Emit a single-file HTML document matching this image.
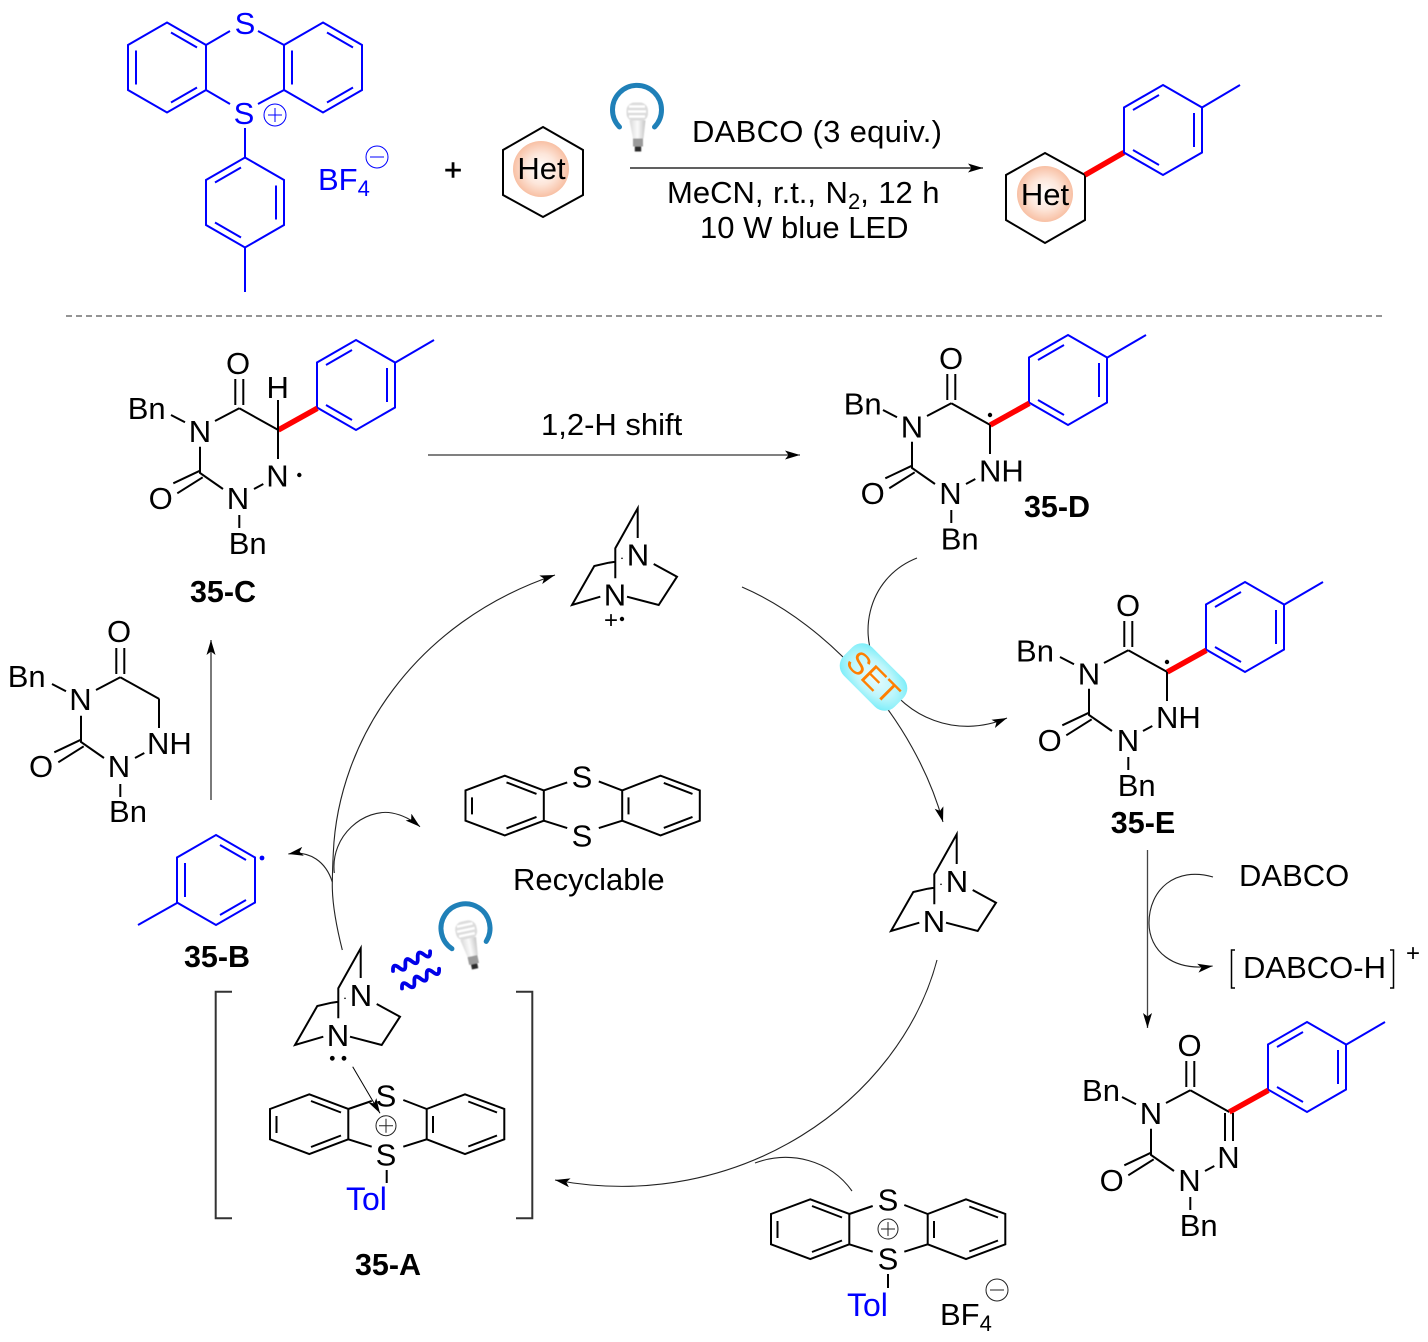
<!DOCTYPE html>
<html>
<head>
<meta charset="utf-8">
<style>
html,body{margin:0;padding:0;background:#fff;}
svg{display:block;}
text{font-family:"Liberation Sans",sans-serif;font-size:31px;fill:#000;}
.m{text-anchor:middle;}
.b{font-weight:bold;font-size:30.5px;text-anchor:middle;}
.bl{fill:#0000ff;}
</style>
</head>
<body>
<svg width="1428" height="1342" viewBox="0 0 1428 1342" xmlns="http://www.w3.org/2000/svg">
<defs>
<radialGradient id="het" cx="50%" cy="50%" r="50%">
<stop offset="0" stop-color="#fff"/><stop offset="0.55" stop-color="#fde6da"/><stop offset="1" stop-color="#f8c0a4"/>
</radialGradient>
<radialGradient id="setg" cx="50%" cy="50%" r="60%">
<stop offset="0" stop-color="#eafcfe"/><stop offset="0.6" stop-color="#bdf6fb"/><stop offset="1" stop-color="#7eeef9"/>
</radialGradient>
<linearGradient id="bulb" x1="0" x2="1" y1="0" y2="0">
<stop offset="0" stop-color="#d8d8d8"/><stop offset="0.5" stop-color="#fbfbfb"/><stop offset="1" stop-color="#c4c4c4"/>
</linearGradient>
<filter id="soft" x="-20%" y="-20%" width="140%" height="140%"><feGaussianBlur stdDeviation="0.6"/></filter>
<marker id="ah" markerUnits="userSpaceOnUse" markerWidth="18" markerHeight="11" refX="15" refY="4.5" orient="auto">
<path d="M15,4.5 L0,0 L3.5,4.5 L0,9 Z" fill="#000"/>
</marker>
<g id="hexA" fill="none" stroke-linejoin="miter">
<path d="M0,-45 L39,-22.5 L39,22.5 L0,45 L-39,22.5 L-39,-22.5 Z"/>
<path d="M4,-35 L30,-20 M30,20 L4,35 M-31,17 L-31,-17"/>
</g>
<g id="hexB" fill="none" stroke-linejoin="miter">
<path d="M0,-45 L39,-22.5 L39,22.5 L0,45 L-39,22.5 L-39,-22.5 Z"/>
<path d="M-4,-35 L-30,-20 M31,-17 L31,17 M-30,20 L-4,35"/>
</g>
<g id="core" fill="none" stroke="#000" stroke-width="2">
<path d="M239.3,408.3 L215,421 M239.3,408.3 L278.3,430 M235.3,379 L235.3,405 M243.3,379 L243.3,405 M200,446.7 L200,473 L223,489 M173.3,483.3 L200,470.7 M177.3,493.3 L202.7,477.3 M254,489 L263.3,484 M171,415 L185,422.3 M239.3,515 L239.3,528"/>
</g>
<g id="aryl">
<use href="#hexB" transform="translate(356,385)" stroke="#0000ff" stroke-width="2"/>
<path d="M395,362.7 L434,340" stroke="#0000ff" stroke-width="2" fill="none"/>
<path d="M278.3,430 L317.3,408.3" stroke="#ff0000" stroke-width="5.5" fill="none"/>
</g>
<g id="dabco" fill="none" stroke="#000" stroke-width="2">
<path d="M360.7,978 L360.7,948.3 L338.3,988.3 L338.3,1018.3 M338.3,1001.7 L331.7,1002.7 M331.7,1002.7 L317.3,1006 L295,1045 L323.3,1036.7 M350,1036.7 L381.7,1045 L400,1016.7 L376.7,1004"/>
<circle cx="345" cy="998.3" r="0.8" fill="#000" stroke="none"/>
</g>
<g id="thia" fill="none" stroke="#000" stroke-width="2" stroke-linejoin="miter">
<path d="M270,1109 L309.3,1094.3 L348.3,1109 L348.3,1139.3 L309.3,1154 L270,1139.3 Z"/>
<path d="M426.7,1109 L465,1094.3 L504.3,1109 L504.3,1139.3 L465,1154 L426.7,1139.3 Z"/>
<path d="M276.5,1116 L276.5,1133 M311,1101 L341,1112.5 M311,1147 L341,1135.5 M433,1116 L433,1133 M468.3,1101.5 L497,1112.5 M468.3,1146.5 L497,1135.5"/>
<path d="M348.3,1109 L371.7,1101 M403.3,1100 L426.7,1109 M348.3,1139.3 L371.7,1146.7 M403.3,1146.7 L426.7,1139.3"/>
</g>
<g id="bulbg">
<path d="M-17.5,19.5 A24.5,24.5 0 1 1 17.5,19.5" fill="none" stroke="#1f80b8" stroke-width="5" stroke-linecap="round"/>
<g filter="url(#soft)">
<rect x="-10.5" y="-5" width="21.5" height="19" rx="8" fill="#dcdcdc"/>
<path d="M-8,-1 H8 M-9,4 H9 M-8,9 H8" stroke="#fff" stroke-width="2.4" fill="none"/>
<path d="M-7.5,13 L8.5,13 L6.5,31 L-4,31 Z" fill="url(#bulb)"/>
<rect x="-4" y="31" width="10" height="8" fill="#9a9a9a"/>
<rect x="-2.2" y="39" width="6.4" height="5" fill="#2a2a2a"/>
</g>
</g>
</defs>

<rect x="0" y="0" width="1428" height="1342" fill="#fff"/>

<!-- Top reagent -->
<g stroke="#0000ff" stroke-width="2">
<use href="#hexA" transform="translate(167,67.5)"/>
<use href="#hexA" transform="translate(323,67.5)"/>
<use href="#hexB" transform="translate(245,202.5)"/>
<path d="M206,45 L230,31 M258,31 L284,45 M206,90 L230,104 M284,90 L258,104 M245,128 L245,158 M245,247 L245,292" fill="none"/>
</g>
<text x="245" y="34" class="m bl">S</text>
<text x="244" y="124" class="m bl">S</text>
<circle cx="275" cy="115" r="11" fill="none" stroke="#0000ff" stroke-width="1"/>
<path d="M268,115 H282 M275,108 V122" stroke="#0000ff" stroke-width="1"/>
<text x="318" y="190" class="bl">BF<tspan dy="6" style="font-size:22px">4</tspan></text>
<circle cx="377" cy="157" r="11" fill="none" stroke="#0000ff" stroke-width="1"/>
<path d="M370,157 H384" stroke="#0000ff" stroke-width="1"/>

<text x="453" y="180" class="m" style="stroke:#000;stroke-width:0.5">+</text>

<!-- Het reagent -->
<path d="M543,127 L583,150 L583,195 L543,217 L503,195 L503,150 Z" fill="none" stroke="#000" stroke-width="2"/>
<circle cx="541" cy="169" r="28" fill="url(#het)"/>
<text x="541.5" y="179" class="m">Het</text>

<!-- Top arrow -->
<use href="#bulbg" transform="translate(637,107.5)"/>
<path d="M630,168 L983,168" stroke="#000" stroke-width="1.2" marker-end="url(#ah)"/>
<text x="692" y="142" textLength="250">DABCO (3 equiv.)</text>
<text x="667" y="203" style="word-spacing:0.9px">MeCN, r.t., N<tspan dy="6" style="font-size:22px">2</tspan><tspan dy="-6">, 12 h</tspan></text>
<text x="700" y="238">10 W blue LED</text>

<!-- Top product -->
<path d="M1045,153 L1085,175 L1085,220 L1045,243 L1006,220 L1006,175 Z" fill="none" stroke="#000" stroke-width="2"/>
<circle cx="1045" cy="194" r="28" fill="url(#het)"/>
<text x="1045" y="205" class="m">Het</text>
<path d="M1085,175 L1124,152.5" stroke="#ff0000" stroke-width="5.5"/>
<use href="#hexB" transform="translate(1163,130)" stroke="#0000ff" stroke-width="2"/>
<path d="M1202,107.5 L1240,85" stroke="#0000ff" stroke-width="2"/>

<!-- Divider -->
<path d="M66,316 H1382" stroke="#555" stroke-width="1.2" stroke-dasharray="6,4"/>

<!-- 35-C -->
<use href="#core"/>
<use href="#aryl"/>
<path d="M278,430 L278,459 M278,430 L278,400" stroke="#000" stroke-width="2"/>
<text x="238" y="374" class="m">O</text>
<text x="146.7" y="419" class="m">Bn</text>
<text x="200" y="442" class="m">N</text>
<text x="238" y="509" class="m">N</text>
<text x="277.5" y="486.5" class="m">N</text>
<text x="277.7" y="398" class="m">H</text>
<text x="160.7" y="509" class="m">O</text>
<text x="247.7" y="554" class="m">Bn</text>
<circle cx="299.3" cy="475" r="2.2" fill="#000"/>
<text x="223" y="602" class="b">35-C</text>

<!-- 1,2-H shift arrow -->
<path d="M428,455 L800,455" stroke="#000" stroke-width="1" marker-end="url(#ah)"/>
<text x="541" y="435">1,2-H shift</text>

<!-- 35-D -->
<g transform="translate(712,-5)">
<use href="#core"/>
<use href="#aryl"/>
<path d="M278,430 L278,459" stroke="#000" stroke-width="2"/>
<text x="239" y="374" class="m">O</text>
<text x="150.7" y="419.5" class="m">Bn</text>
<text x="200" y="442.5" class="m">N</text>
<text x="238.5" y="509" class="m">N</text>
<text x="267" y="486.5">NH</text>
<text x="160.7" y="509" class="m">O</text>
<text x="247.7" y="554.5" class="m">Bn</text>
<circle cx="278" cy="420" r="2.2" fill="#000"/>
</g>
<text x="1057" y="517" class="b">35-D</text>

<!-- 35-E -->
<g transform="translate(889,242)">
<use href="#core"/>
<use href="#aryl"/>
<path d="M278,430 L278,459" stroke="#000" stroke-width="2"/>
<text x="239" y="374" class="m">O</text>
<text x="146" y="419.5" class="m">Bn</text>
<text x="200" y="442.5" class="m">N</text>
<text x="239" y="509" class="m">N</text>
<text x="267" y="486">NH</text>
<text x="160.7" y="509" class="m">O</text>
<text x="247.7" y="554" class="m">Bn</text>
<circle cx="278" cy="420" r="2.2" fill="#000"/>
</g>
<text x="1143" y="833" class="b">35-E</text>

<!-- Product -->
<g transform="translate(951,682)">
<use href="#core"/>
<use href="#aryl"/>
<path d="M274,431 L274,459 M282,431 L282,459" stroke="#000" stroke-width="2"/>
<text x="238.5" y="374" class="m">O</text>
<text x="150" y="419" class="m">Bn</text>
<text x="200" y="442" class="m">N</text>
<text x="238.5" y="509" class="m">N</text>
<text x="277.5" y="486" class="m">N</text>
<text x="160.7" y="509" class="m">O</text>
<text x="247.7" y="554" class="m">Bn</text>
</g>

<!-- Starting heterocycle -->
<g transform="translate(-119,269)">
<use href="#core"/>
<path d="M278,430 L278,459" stroke="#000" stroke-width="2"/>
<text x="238" y="373" class="m">O</text>
<text x="145.7" y="418" class="m">Bn</text>
<text x="199.5" y="441" class="m">N</text>
<text x="238" y="508" class="m">N</text>
<text x="266" y="485">NH</text>
<text x="160" y="508" class="m">O</text>
<text x="247" y="553" class="m">Bn</text>
</g>

<!-- 35-B -->
<use href="#hexA" transform="translate(216,880)" stroke="#0000ff" stroke-width="2"/>
<path d="M177,903 L138,925" stroke="#0000ff" stroke-width="2"/>
<circle cx="262" cy="858" r="2.4" fill="#0000ff"/>
<text x="217" y="967" class="b">35-B</text>
<path d="M211,800 L211,640" stroke="#222" stroke-width="1.2" marker-end="url(#ah)"/>

<!-- DABCO radical cation -->
<use href="#dabco" transform="translate(277,-440)"/>
<text x="615" y="605.5" class="m">N</text>
<text x="638" y="565.5" class="m">N</text>
<text x="611" y="628" class="m" style="font-size:24px">+</text>
<circle cx="622" cy="619" r="2.2" fill="#000"/>

<!-- Right DABCO -->
<use href="#dabco" transform="translate(596,-114)"/>
<text x="934" y="932" class="m">N</text>
<text x="957" y="892" class="m">N</text>

<!-- Lower-left DABCO -->
<use href="#dabco"/>
<text x="338" y="1046" class="m">N</text>
<text x="361" y="1006" class="m">N</text>
<circle cx="332.3" cy="1058.3" r="2.4" fill="#000"/>
<circle cx="344" cy="1058.3" r="2.4" fill="#000"/>
<path d="M352.7,1066.7 L380,1113.3" stroke="#000" stroke-width="1" marker-end="url(#ah)"/>

<!-- Recyclable thianthrene -->
<use href="#thia" transform="translate(195.5,-318.6)"/>
<text x="582" y="787.5" class="m">S</text>
<text x="582" y="846.5" class="m">S</text>
<text x="513" y="890">Recyclable</text>

<!-- 35-A complex -->
<use href="#thia"/>
<text x="386" y="1106.5" class="m">S</text>
<text x="386" y="1165.5" class="m">S</text>
<circle cx="386" cy="1125.7" r="10" fill="none" stroke="#222" stroke-width="1"/>
<path d="M379,1125.7 H393 M386,1118.7 V1132.7" stroke="#222" stroke-width="1"/>
<path d="M386.7,1170 L386.7,1183" stroke="#000" stroke-width="2"/>
<text x="346" y="1210" class="bl" style="font-size:32px">Tol</text>
<path d="M232,991.7 H215.7 V1218.3 H232 M516,991.7 H532.3 V1218.3 H516" fill="none" stroke="#333" stroke-width="2"/>
<text x="388" y="1275" class="b">35-A</text>

<!-- Wavy lines + bulb -->
<g fill="none" stroke="#0000e8" stroke-width="3.8" stroke-linecap="round">
<path transform="translate(393,971) rotate(-28)" d="M0,0 q3.5,-8 7,0 t7,0 t7,0 t7,0 t7,0 t7,0"/>
<path transform="translate(402,988.5) rotate(-28)" d="M0,0 q3.5,-8 7,0 t7,0 t7,0 t7,0 t7,0 t7,0"/>
</g>
<use href="#bulbg" transform="translate(465,926) rotate(-12)"/>

<!-- Bottom thianthrenium -->
<use href="#thia" transform="translate(501,105)"/>
<text x="888" y="1210.5" class="m">S</text>
<text x="888" y="1269.5" class="m">S</text>
<circle cx="888" cy="1229" r="10" fill="none" stroke="#222" stroke-width="1"/>
<path d="M881,1229 H895 M888,1222 V1236" stroke="#222" stroke-width="1"/>
<path d="M888,1274 L888,1288" stroke="#000" stroke-width="2"/>
<text x="847" y="1316" class="bl" style="font-size:32px">Tol</text>
<text x="940" y="1325">BF<tspan dy="6" style="font-size:22px">4</tspan></text>
<circle cx="997" cy="1290" r="11" fill="none" stroke="#222" stroke-width="1"/>
<path d="M990,1290 H1004" stroke="#222" stroke-width="1"/>

<!-- Cycle curves -->
<g fill="none" stroke="#222" stroke-width="1.1">
<path d="M342.3,950 C336,925 332,900 332.3,883 C332.5,870 332.8,862 333.3,853 C338,740 415,622 555,575" marker-end="url(#ah)"/>
<path d="M332.3,882 C326,862 310,850 288.3,854" marker-end="url(#ah)"/>
<path d="M334.3,873 C330,835 365,808 392,813 C403,815 412,820 420,826.7" marker-end="url(#ah)"/>
<path d="M742,587 C830,625 915,720 943,822" marker-end="url(#ah)"/>
<path d="M917,558 C866,578 854,640 885,680 C905,715 955,740 1007,718" marker-end="url(#ah)"/>
<path d="M937,960 C900,1100 740,1215 555,1180" marker-end="url(#ah)"/>
<path d="M852,1191 C830,1160 790,1150 755,1163"/>
<path d="M1213,877 C1175,866 1149,890 1149,923 C1149,950 1172,972 1212.7,966" marker-end="url(#ah)"/>
</g>
<path d="M1147.5,850 L1147.5,1028" stroke="#444" stroke-width="1.3" marker-end="url(#ah)"/>

<!-- SET badge -->
<g transform="translate(873.5,677) rotate(45)">
<rect x="-36" y="-20" width="72" height="40" rx="14" fill="url(#setg)"/>
<text x="0" y="11" class="m" style="fill:#ff7f00">SET</text>
</g>

<!-- DABCO / DABCO-H -->
<text x="1239" y="886">DABCO</text>
<text x="1243" y="978">DABCO-H</text>
<path d="M1235,950 H1231.5 V988 H1235 M1390,950 H1393.5 V988 H1390" fill="none" stroke="#000" stroke-width="1.5"/>
<text x="1413" y="961" class="m" style="font-size:24px">+</text>
</svg>
</body>
</html>
